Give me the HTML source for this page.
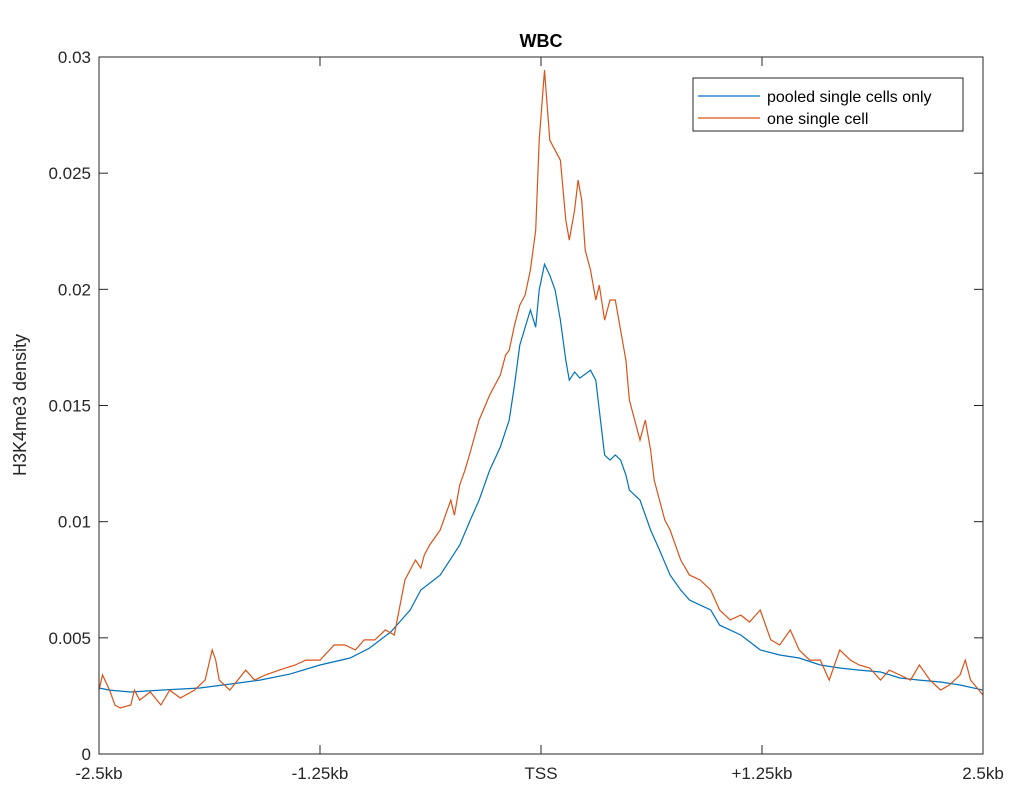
<!DOCTYPE html>
<html><head><meta charset="utf-8"><style>
body{margin:0;background:#fff;}
svg text{font-family:"Liberation Sans",Arial,sans-serif;}
</style></head><body>
<svg id="chart" width="1024" height="804" xmlns="http://www.w3.org/2000/svg"></svg>
<script>
const xTicks=[-2.5,-1.25,0,1.25,2.5];
const xTickLabels=["-2.5kb","-1.25kb","TSS","+1.25kb","2.5kb"];
const yTicks=[0,5,10,15,20,25,30];
const yTickLabels=["0","0.005","0.01","0.015","0.02","0.025","0.03"];
const pooledX=[-2.50,-2.44,-2.32,-2.15,-1.93,-1.76,-1.59,-1.42,-1.25,-1.08,-0.97,-0.85,-0.80,-0.74,-0.68,-0.57,-0.46,-0.40,-0.35,-0.29,-0.23,-0.18,-0.15,-0.12,-0.06,-0.03,-0.01,0.02,0.05,0.08,0.11,0.14,0.16,0.19,0.22,0.28,0.31,0.33,0.36,0.39,0.42,0.45,0.48,0.50,0.56,0.62,0.67,0.73,0.79,0.84,0.90,0.96,1.01,1.13,1.24,1.35,1.46,1.58,1.69,1.80,1.92,2.03,2.14,2.26,2.37,2.50];
const pooledY=[2.84,2.75,2.67,2.75,2.84,3.01,3.18,3.44,3.83,4.13,4.56,5.25,5.68,6.20,7.06,7.70,8.99,10.07,10.93,12.22,13.21,14.37,15.88,17.60,19.11,18.37,19.97,21.08,20.61,19.97,18.67,16.95,16.09,16.44,16.18,16.52,16.09,14.80,12.87,12.65,12.87,12.65,12.01,11.36,10.93,9.64,8.78,7.70,7.06,6.63,6.41,6.20,5.55,5.12,4.48,4.26,4.13,3.83,3.70,3.61,3.53,3.27,3.18,3.10,2.97,2.75];
const singleX=[-2.50,-2.48,-2.44,-2.41,-2.38,-2.32,-2.30,-2.27,-2.21,-2.15,-2.10,-2.04,-1.96,-1.90,-1.86,-1.84,-1.82,-1.76,-1.67,-1.62,-1.56,-1.48,-1.39,-1.33,-1.25,-1.17,-1.11,-1.05,-1.00,-0.94,-0.88,-0.83,-0.77,-0.71,-0.68,-0.66,-0.63,-0.57,-0.51,-0.49,-0.46,-0.43,-0.40,-0.35,-0.29,-0.23,-0.20,-0.18,-0.15,-0.12,-0.09,-0.06,-0.03,-0.01,0.02,0.05,0.08,0.11,0.14,0.16,0.19,0.21,0.23,0.25,0.28,0.31,0.33,0.36,0.39,0.42,0.45,0.48,0.50,0.53,0.56,0.59,0.62,0.64,0.67,0.70,0.73,0.79,0.84,0.90,0.96,1.01,1.07,1.13,1.18,1.24,1.30,1.35,1.41,1.46,1.52,1.58,1.63,1.69,1.75,1.80,1.86,1.92,1.97,2.03,2.09,2.14,2.20,2.26,2.31,2.37,2.40,2.43,2.50];
const singleY=[2.75,3.40,2.75,2.11,1.98,2.11,2.75,2.32,2.67,2.11,2.75,2.41,2.75,3.18,4.48,4.04,3.18,2.75,3.61,3.18,3.40,3.61,3.83,4.04,4.04,4.69,4.69,4.48,4.91,4.91,5.34,5.12,7.49,8.35,8.00,8.56,8.99,9.64,10.93,10.28,11.58,12.22,13.00,14.37,15.45,16.31,17.17,17.38,18.46,19.32,19.75,20.83,22.55,26.42,29.43,26.42,25.99,25.56,22.98,22.12,23.41,24.70,23.84,21.69,20.83,19.54,20.18,18.67,19.54,19.54,18.24,16.95,15.23,14.37,13.51,14.37,13.08,11.79,10.93,10.07,9.64,8.35,7.70,7.49,7.06,6.20,5.77,5.98,5.68,6.20,4.91,4.69,5.34,4.48,4.04,4.04,3.18,4.48,4.04,3.83,3.70,3.18,3.61,3.40,3.18,3.83,3.18,2.75,2.97,3.40,4.04,3.18,2.54];

const svg=document.getElementById('chart');
const NS="http://www.w3.org/2000/svg";
const L=99,R=983,T=57,B=754;
function sx(v){return L+(v+2.5)/5*(R-L);}
function sy(v){return B-v/30*(B-T);}
function mk(tag,attrs,parent){const e=document.createElementNS(NS,tag);for(const k in attrs)e.setAttribute(k,attrs[k]);(parent||svg).appendChild(e);return e;}

const plot=mk('g',{});


function line(xs,ys,color,name){
  let d='';xs.forEach((x,i)=>{d+=(i?'L':'M')+sx(x).toFixed(1)+' '+sy(ys[i]).toFixed(1);});
  const p=mk('path',{d:d,fill:'none',stroke:color,'stroke-width':1.2},plot);
  
  
}
line(pooledX,pooledY,'#0072BD','pooled-series-line');
line(singleX,singleY,'#D95319','single-cell-series-line');

const frame=mk('rect',{x:L,y:T,width:R-L,height:B-T,fill:'none',stroke:'#262626','stroke-width':1});



xTicks.forEach((v,i)=>{
  const x=sx(v);
  mk('line',{x1:x,x2:x,y1:B,y2:B-9,stroke:'#262626'});
  mk('line',{x1:x,x2:x,y1:T,y2:T+9,stroke:'#262626'});
  const t=mk('text',{x:x,y:B+25,'text-anchor':'middle','font-size':17,fill:'#262626'});
  t.textContent=xTickLabels[i];
  
  
});
yTicks.forEach((v,i)=>{
  const y=sy(v);
  mk('line',{x1:L,x2:L+9,y1:y,y2:y,stroke:'#262626'});
  mk('line',{x1:R,x2:R-9,y1:y,y2:y,stroke:'#262626'});
  const t=mk('text',{x:L-8,y:y+6,'text-anchor':'end','font-size':17,fill:'#262626'});
  t.textContent=yTickLabels[i];
  
  
});

const title=mk('text',{x:541,y:47,'text-anchor':'middle','font-size':18,'font-weight':'bold',fill:'#000'});
title.textContent='WBC';



const yl=mk('text',{x:0,y:0,'text-anchor':'middle','font-size':18,fill:'#262626',transform:'translate(26,405) rotate(-90)'});
yl.textContent='H3K4me3 density';



const lg=mk('g',{});


mk('rect',{x:693,y:78,width:270,height:53,fill:'#fff',stroke:'#262626','stroke-width':1},lg);
const entries=[['pooled single cells only','#0072BD',96],['one single cell','#D95319',118]];
entries.forEach(e=>{
  mk('line',{x1:698,x2:760,y1:e[2],y2:e[2],stroke:e[1],'stroke-width':1.2},lg);
  const t=mk('text',{x:767,y:e[2]+6,'font-size':16,fill:'#000'},lg);
  t.textContent=e[0];
  
  
});
</script>
</body></html>
